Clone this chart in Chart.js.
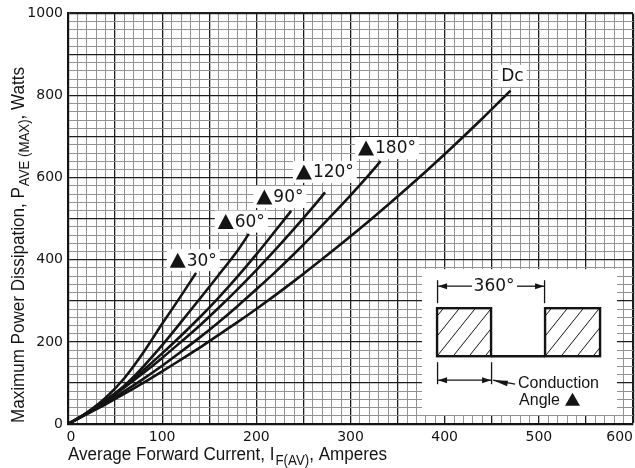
<!DOCTYPE html>
<html>
<head>
<meta charset="utf-8">
<script src="https://cdn.jsdelivr.net/npm/chart.js@4.4.1/dist/chart.umd.min.js"></script>
<style>
  html, body { margin: 0; padding: 0; background: #fff; }
  canvas { display: block; }
</style>
</head>
<body>
<canvas id="chart" width="635" height="468"></canvas>
<script>
// Axis tick labels
const xTickLabels = [0, 100, 200, 300, 400, 500, 600];
const yTickLabels = [0, 200, 400, 600, 800, 1000];

// Average forward current (A) and maximum average power (W) per conduction angle
const current30 = [0, 20, 40, 60, 80, 100, 120, 136];
const power30   = [0, 28, 64, 112, 174, 244, 312, 368];

const current60 = [0, 20, 40, 60, 80, 100, 120, 140, 160, 180, 192];
const power60   = [0, 27, 58, 94, 140, 192, 248, 305, 363, 422, 463];

const current90 = [0, 20, 40, 60, 80, 100, 120, 140, 160, 180, 200, 220, 237];
const power90   = [0, 26, 57, 92, 131, 172, 215, 260, 308, 359, 413, 470, 519];

const current120 = [0, 20, 40, 60, 80, 100, 120, 140, 160, 180, 200, 220, 240, 260, 273];
const power120   = [0, 26, 56, 89, 124, 161, 200, 240, 283, 328, 375, 424, 475, 528, 564];

const current180 = [0, 20, 40, 60, 80, 100, 120, 140, 160, 180, 200, 220, 240, 260, 280, 300, 320, 332];
const power180   = [0, 25, 52, 80, 110, 142, 176, 211, 248, 287, 328, 370, 414, 460, 508, 557, 608, 640];

const currentDc = [0, 20, 40, 60, 80, 100, 120, 140, 160, 180, 200, 240, 280, 320, 360, 400, 440, 470];
const powerDc   = [0, 24, 48, 74, 100, 128, 157, 186, 217, 248, 280, 348, 420, 495, 574, 657, 744, 812];

// Curve names and where their tags sit (left edge / vertical centre, in A and W)
const curveNames = ['30°', '60°', '90°', '120°', '180°', 'Dc'];
const tagAt = [[108, 399], [159, 493], [200, 553], [242, 614], [308, 672], [460, 848]];

// Waveform inset frame corners (A, W)
const insetFrom = [376, 377];
const insetTo = [583, 22];

const series = [
  [current30, power30], [current60, power60], [current90, power90],
  [current120, power120], [current180, power180], [currentDc, powerDc]
];

const INK = '#141414';

function triangle(ctx, left, cy, w, h) {
  ctx.beginPath();
  ctx.moveTo(left, cy + h / 2);
  ctx.lineTo(left + w / 2, cy - h / 2);
  ctx.lineTo(left + w, cy + h / 2);
  ctx.closePath();
  ctx.fill();
}

function arrowHead(ctx, tipX, tipY, dir, len, half) {
  // dir: +1 points right, -1 points left
  ctx.beginPath();
  ctx.moveTo(tipX, tipY);
  ctx.lineTo(tipX - dir * len, tipY - half);
  ctx.lineTo(tipX - dir * len, tipY + half);
  ctx.closePath();
  ctx.fill();
}

function line(ctx, x1, y1, x2, y2) {
  ctx.beginPath();
  ctx.moveTo(x1, y1);
  ctx.lineTo(x2, y2);
  ctx.stroke();
}

function hatchedPulse(ctx, rx, ry, rw, rh) {
  ctx.save();
  ctx.beginPath();
  ctx.rect(rx, ry, rw, rh);
  ctx.clip();
  ctx.lineWidth = 1;
  for (let k = -rh; k < rw + rh; k += 16) {
    line(ctx, rx + k, ry + rh, rx + k + rh / 1.25, ry);
  }
  ctx.restore();
  ctx.lineWidth = 2.4;
  ctx.strokeRect(rx, ry, rw, rh);
}

// Title made of plain and subscript runs, squeezed to a given length
function drawTitle(ctx, parts, x, y, rotate, length) {
  const mainFont = '18px "Liberation Sans", Arial, sans-serif';
  const subFont = '14px "Liberation Sans", Arial, sans-serif';
  let total = 0;
  parts.forEach(([t, sub]) => {
    ctx.font = sub ? subFont : mainFont;
    total += ctx.measureText(t).width + (sub ? 1 : 0);
  });
  ctx.save();
  ctx.translate(x, y);
  if (rotate) ctx.rotate(-Math.PI / 2);
  ctx.scale(length / total, 1);
  ctx.fillStyle = INK;
  ctx.textBaseline = 'alphabetic';
  ctx.textAlign = 'left';
  let pos = 0;
  parts.forEach(([t, sub]) => {
    ctx.font = sub ? subFont : mainFont;
    ctx.fillText(t, pos + (sub ? 1 : 0), sub ? 5 : 0);
    pos += ctx.measureText(t).width + (sub ? 1 : 0);
  });
  ctx.restore();
}

const decorations = {
  id: 'decorations',
  afterDatasetsDraw(chart) {
    const { ctx, chartArea: ca, scales: { x, y } } = chart;
    ctx.save();

    // Curve tags
    ctx.font = '17px "DejaVu Sans", sans-serif';
    ctx.textBaseline = 'middle';
    ctx.textAlign = 'left';
    curveNames.forEach((name, i) => {
      const lx = x.getPixelForValue(tagAt[i][0]);
      const ly = y.getPixelForValue(tagAt[i][1]);
      const hasTri = name !== 'Dc';
      const tw = ctx.measureText(name).width;
      const w = (hasTri ? 17 : 0) + tw;
      ctx.fillStyle = '#fff';
      ctx.fillRect(lx - 3, ly - 11, w + 6, 22);
      ctx.fillStyle = INK;
      if (hasTri) triangle(ctx, lx, ly, 16, 15);
      ctx.fillText(name, lx + (hasTri ? 17 : 0), ly + 1);
    });

    // Waveform inset
    const L = x.getPixelForValue(insetFrom[0]);
    const T = y.getPixelForValue(insetFrom[1]);
    const R = x.getPixelForValue(insetTo[0]);
    const B = y.getPixelForValue(insetTo[1]);
    ctx.fillStyle = '#fff';
    ctx.fillRect(L, T, R - L, B - T);

    ctx.strokeStyle = INK;
    ctx.fillStyle = INK;
    hatchedPulse(ctx, L + 15, T + 39, 54, 48);
    hatchedPulse(ctx, L + 123, T + 39, 55, 48);
    ctx.lineWidth = 2.4;
    line(ctx, L + 69, T + 87, L + 123, T + 87);

    // 360° period dimension
    ctx.lineWidth = 1.3;
    line(ctx, L + 15.5, T + 11, L + 15.5, T + 34);
    line(ctx, L + 122.5, T + 11, L + 122.5, T + 34);
    line(ctx, L + 16, T + 17, L + 50, T + 17);
    line(ctx, L + 95, T + 17, L + 122, T + 17);
    arrowHead(ctx, L + 16, T + 17, -1, 9, 3);
    arrowHead(ctx, L + 122, T + 17, 1, 9, 3);
    ctx.font = '17px "DejaVu Sans", sans-serif';
    ctx.textAlign = 'center';
    ctx.textBaseline = 'middle';
    ctx.fillText('360°', L + 72, T + 17);

    // Conduction angle dimension
    line(ctx, L + 15.5, T + 93, L + 15.5, T + 115);
    line(ctx, L + 69.5, T + 93, L + 69.5, T + 115);
    line(ctx, L + 16, T + 111, L + 69, T + 111);
    arrowHead(ctx, L + 16, T + 111, -1, 9, 3);
    arrowHead(ctx, L + 69, T + 111, 1, 9, 3);
    // leader from the caption
    ctx.lineWidth = 1.3;
    line(ctx, L + 71, T + 111, L + 93, T + 115);
    ctx.beginPath();
    ctx.moveTo(L + 71, T + 111);
    ctx.lineTo(L + 86, T + 111.5);
    ctx.lineTo(L + 85, T + 117);
    ctx.closePath();
    ctx.fill();

    ctx.textAlign = 'left';
    ctx.font = '16px "Liberation Sans", Arial, sans-serif';
    ctx.fillText('Conduction', L + 96, T + 114);
    ctx.fillText('Angle', L + 97, T + 131);
    const aw = ctx.measureText('Angle').width;
    triangle(ctx, L + 97 + aw + 5, T + 130, 15, 13);

    // x tick labels, kept inside the plot's right edge
    ctx.font = '14px "DejaVu Sans", sans-serif';
    ctx.textBaseline = 'middle';
    ctx.textAlign = 'left';
    xTickLabels.forEach(v => {
      const s = String(v);
      const w = ctx.measureText(s).width;
      let left = x.getPixelForValue(v) - w / 2;
      if (left + w > ca.right) left = ca.right - w;
      ctx.fillText(s, left + (v === 0 ? 3 : 0), ca.bottom + 13);
    });

    ctx.restore();

    drawTitle(ctx, [['Average Forward Current, I', false], ['F(AV)', true], [', Amperes', false]],
      ca.left, ca.bottom + 35.5, false, 319);
    drawTitle(ctx, [['Maximum Power Dissipation, P', false], ['AVE (MAX)', true], [', Watts', false]],
      23.5, ca.bottom - 1, true, 356);
  }
};

const gridTicks = (max, step) => {
  const t = [];
  for (let v = 0; v <= max; v += step) t.push({ value: v });
  return t;
};

new Chart(document.getElementById('chart'), {
  type: 'line',
  data: {
    datasets: series.map(([xs, ys], i) => ({
      label: curveNames[i],
      data: xs.map((v, j) => ({ x: v, y: ys[j] })),
      borderColor: INK,
      borderWidth: 2.6,
      pointRadius: 0,
      fill: false,
      cubicInterpolationMode: 'monotone'
    }))
  },
  options: {
    responsive: false,
    animation: false,
    devicePixelRatio: 1,
    layout: { padding: { top: 10, right: 2, left: 0, bottom: 0 } },
    plugins: { legend: { display: false }, tooltip: { enabled: false } },
    scales: {
      x: {
        type: 'linear',
        min: 0,
        max: 600,
        afterBuildTicks: s => { s.ticks = gridTicks(600, 10); },
        afterFit: s => { s.height = 44; s.paddingLeft = 0; s.paddingRight = 0; },
        ticks: { display: false },
        grid: {
          drawTicks: false,
          color: c => (c.tick.value % 50 === 0 ? '#1e1e1e' : '#939393'),
          lineWidth: c => (c.tick.value === 600 ? 2.2 : c.tick.value % 50 === 0 ? 1.3 : 1)
        },
        border: { display: true, color: INK, width: 2.2 }
      },
      y: {
        type: 'linear',
        min: 0,
        max: 1000,
        afterBuildTicks: s => { s.ticks = gridTicks(1000, 20); },
        afterFit: s => { s.width = 68; },
        ticks: {
          autoSkip: false,
          padding: 5,
          color: INK,
          font: { family: '"DejaVu Sans", sans-serif', size: 14 },
          callback: v => (yTickLabels.includes(v) ? String(v) : '')
        },
        grid: {
          drawTicks: false,
          color: c => (c.tick.value % 100 === 0 ? '#1e1e1e' : '#939393'),
          lineWidth: c => (c.tick.value === 1000 ? 2.2 : c.tick.value % 100 === 0 ? 1.3 : 1)
        },
        border: { display: true, color: INK, width: 2.2 }
      }
    }
  },
  plugins: [decorations]
});
</script>
</body>
</html>
